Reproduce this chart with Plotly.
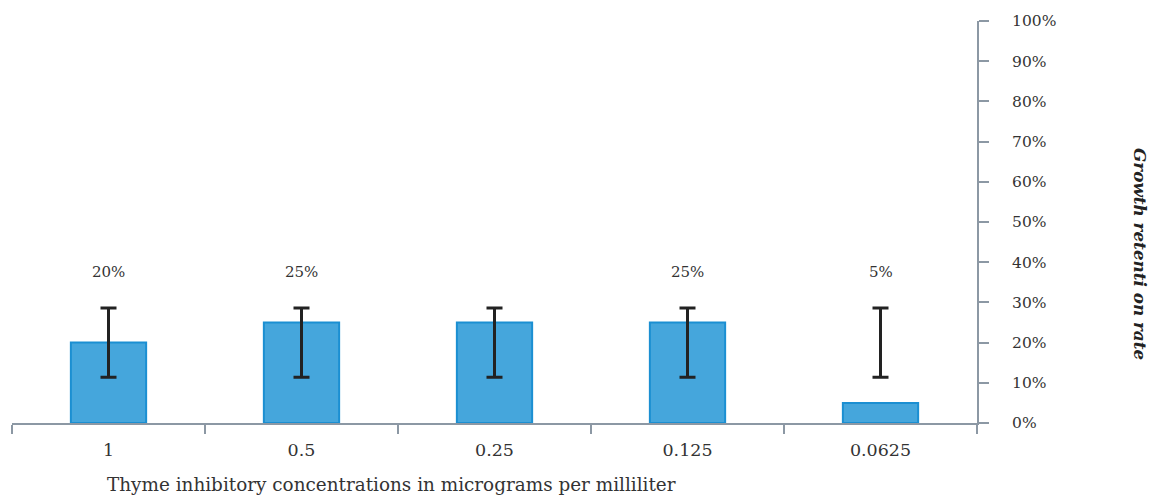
import plotly.graph_objects as go

# Thyme concentrations (µg/mL) and growth retention
concentrations = ["1", "0.5", "0.25", "0.125", "0.0625"]
retention = [20, 25, 25, 25, 5]
value_labels = ["20%", "25%", "", "25%", "5%"]
err_center = [20, 20, 20, 20, 20]
err_half = [8.6, 8.6, 8.6, 8.6, 8.6]
y_ticks = [0, 10, 20, 30, 40, 50, 60, 70, 80, 90, 100]
y_tick_text = [f"{v}%" for v in y_ticks]
label_height = 37.6

FONT = "DejaVu Serif"
AXIS = "#8c98a4"

fig = go.Figure()

fig.add_trace(go.Bar(
    x=concentrations, y=retention, width=0.39,
    marker=dict(color="#45a6dc", line=dict(color="#1b8fd2", width=2)),
    hoverinfo="skip",
))

fig.add_trace(go.Scatter(
    x=concentrations, y=err_center, mode="markers",
    marker=dict(size=0.1, color="rgba(0,0,0,0)"),
    error_y=dict(type="data", array=err_half, symmetric=True,
                 color="#222222", thickness=3, width=8),
    hoverinfo="skip",
))

# value labels sit at a common height above the bars (positioned by category index)
for i, lab in enumerate(value_labels):
    if lab:
        fig.add_annotation(x=i, y=label_height, text=lab, showarrow=False,
                           font=dict(family=FONT, size=15, color="#333333"))

fig.add_annotation(xref="paper", yref="paper", x=(391 - 12) / 965, y=-0.152,
                   text="Thyme inhibitory concentrations in micrograms per milliliter",
                   showarrow=False, xanchor="center", yanchor="middle",
                   font=dict(family=FONT, size=18.4, color="#333333"))

fig.add_annotation(xref="paper", yref="paper", x=(1140 - 12) / 965, y=(423 - 254) / 402,
                   text="<b><i>Growth retenti on rate</i></b>", textangle=90,
                   showarrow=False, xanchor="center", yanchor="middle",
                   font=dict(family=FONT, size=16.8, color="#222222"))

fig.update_layout(
    width=1153, height=496,
    margin=dict(l=12, r=176, t=21, b=73),
    paper_bgcolor="white", plot_bgcolor="white",
    showlegend=False,
    xaxis=dict(
        type="category", range=[-0.5, 4.5],
        showline=True, linecolor=AXIS, linewidth=2,
        ticks="outside", tickson="boundaries", ticklen=9, tickcolor=AXIS, tickwidth=2,
        tickfont=dict(family=FONT, size=17.5, color="#333333"),
        ticklabelstandoff=10,
        showgrid=False, zeroline=False,
    ),
    yaxis=dict(
        side="right", range=[0, 100],
        tickvals=y_ticks, ticktext=y_tick_text,
        showline=True, linecolor=AXIS, linewidth=2,
        ticks="outside", ticklen=10, tickcolor=AXIS, tickwidth=2,
        tickfont=dict(family=FONT, size=15.5, color="#333333"),
        ticklabelstandoff=20,
        showgrid=False, zeroline=False,
    ),
)

fig.write_html("out.html")
